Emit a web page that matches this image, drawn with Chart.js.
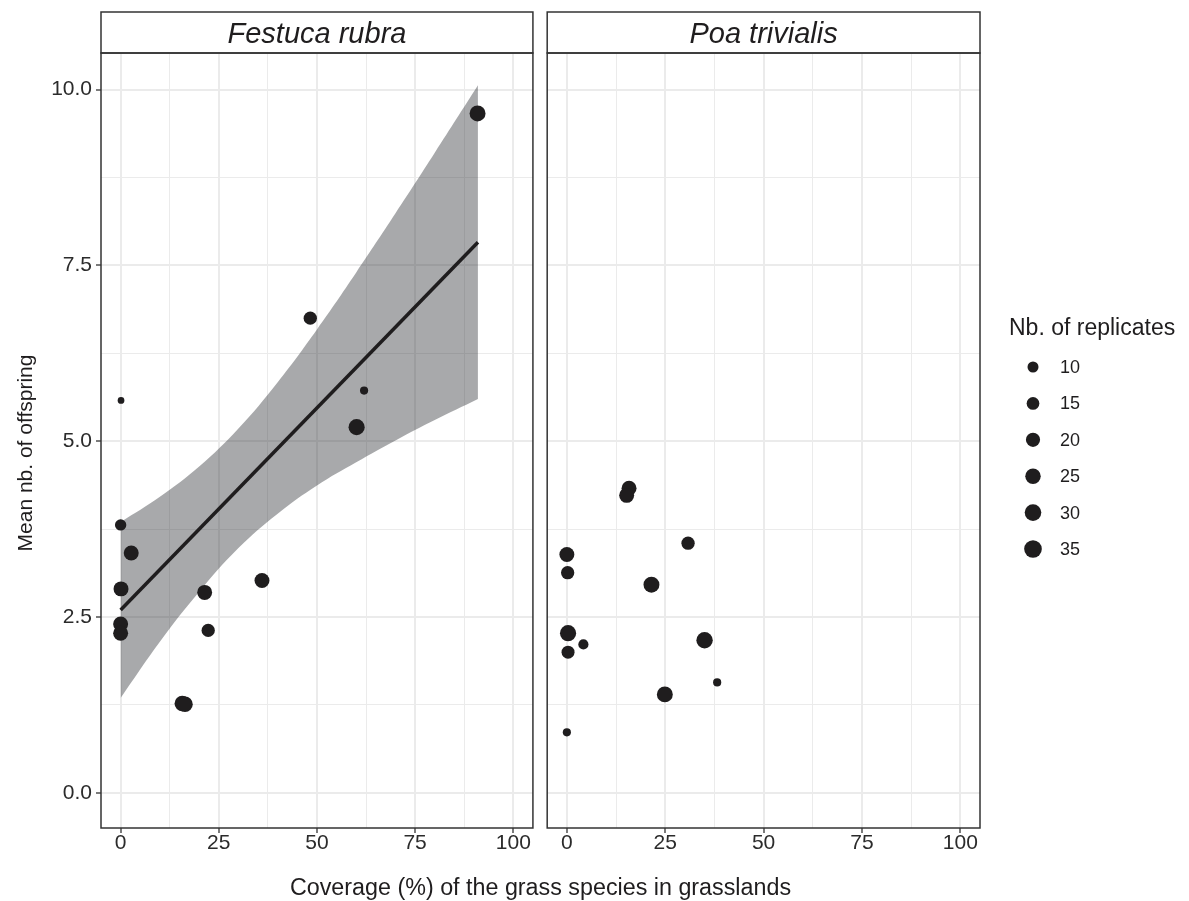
<!DOCTYPE html>
<html>
<head>
<meta charset="utf-8">
<script src="https://cdn.jsdelivr.net/npm/chart.js@4.4.1/dist/chart.umd.min.js"></script>
<style>
  body { margin: 0; background: #fff; width: 1189px; height: 901px; position: relative; overflow: hidden; font-family: "Liberation Sans", Arial, sans-serif; color: #1f1d1e; }
  canvas { position: absolute; top: 0; }
  #chartA { left: 0; }
  #chartB { left: 539px; }
  #xTitle { position: absolute; left: 101px; width: 879px; top: 873px; text-align: center; font-size: 23.3px; line-height: 28px; }
  #yTitle { position: absolute; left: -175px; width: 400px; top: 439px; height: 28px; line-height: 28px; text-align: center; font-size: 21px; transform: rotate(-90deg); }
</style>
</head>
<body>
<canvas id="chartA" width="541" height="901"></canvas>
<canvas id="chartB" width="650" height="901"></canvas>
<div id="xTitle">Coverage (%) of the grass species in grasslands</div>
<div id="yTitle">Mean nb. of offspring</div>
<script>
// Festuca rubra panel
const festucaCover = [90.9, 48.3, 0.1, 62.0, 60.1, 0.0, 2.7, 0.1, 21.4, 36.0, 0.0, 0.0, 22.3, 15.7, 16.4];
const festucaOffspring = [9.66, 6.75, 5.58, 5.72, 5.20, 3.81, 3.41, 2.90, 2.85, 3.02, 2.40, 2.27, 2.31, 1.27, 1.26];
const festucaReplicates = [27, 17, 2, 4, 28, 11, 23, 23, 23, 23, 23, 23, 17, 25, 25];

// Poa trivialis panel
const poaCover = [15.8, 15.2, 30.8, 0.0, 0.2, 21.5, 0.3, 4.2, 0.3, 35.0, 38.2, 24.9, 0.0];
const poaOffspring = [4.33, 4.23, 3.55, 3.39, 3.13, 2.96, 2.27, 2.11, 2.00, 2.17, 1.57, 1.40, 0.86];
const poaReplicates = [23, 23, 17, 23, 17, 27, 28, 8, 16, 29, 4, 27, 4];

// fitted line + confidence band (Festuca only)
const fitCover = [0, 91];
const fitOffspring = [2.60, 7.83];
const bandCover = [0, 10, 20, 30, 40, 50, 60, 70, 80, 91];
const bandUpper = [3.85, 4.21, 4.64, 5.18, 5.84, 6.59, 7.40, 8.24, 9.10, 10.06];
const bandLower = [1.35, 2.15, 2.86, 3.48, 3.97, 4.37, 4.70, 5.01, 5.30, 5.60];

// axes
const xTicks = [0, 12.5, 25, 37.5, 50, 62.5, 75, 87.5, 100];
const yTicks = [0, 1.25, 2.5, 3.75, 5, 6.25, 7.5, 8.75, 10];
const legendReplicates = [10, 15, 20, 25, 30, 35];

const font = '"Liberation Sans", Arial, sans-serif';
const ink = '#1f1d1e';

function dotRadius(n) {
    return (3.3 + 2.43 * Math.sqrt(n)) / 2;
}

function points(xs, ys, ns) {
    return xs.map((x, i) => ({ x: x, y: ys[i], n: ns[i] }));
}

function xy(xs, ys) {
    return xs.map((x, i) => ({ x: x, y: ys[i] }));
}

const panelFrame = {
    id: 'panelFrame',
    afterDraw(chart) {
        const ctx = chart.ctx;
        const a = chart.chartArea;
        ctx.save();
        ctx.strokeStyle = '#333';
        ctx.lineWidth = 1.5;
        ctx.strokeRect(a.left, a.top, a.right - a.left, a.bottom - a.top);
        ctx.strokeRect(a.left, 12, a.right - a.left, a.top - 12);
        ctx.restore();
    }
};

const replicateLegend = {
    id: 'replicateLegend',
    afterDraw(chart) {
        const ctx = chart.ctx;
        const left = chart.chartArea.right + 29;
        ctx.save();
        ctx.fillStyle = ink;
        ctx.textBaseline = 'middle';
        ctx.font = '23px ' + font;
        ctx.fillText('Nb. of replicates', left, 329);
        ctx.font = '18px ' + font;
        legendReplicates.forEach((n, i) => {
            const y = 367 + i * 36.4;
            ctx.beginPath();
            ctx.arc(left + 24, y, dotRadius(n), 0, 2 * Math.PI);
            ctx.fill();
            ctx.fillText(String(n), left + 51, y + 1);
        });
        ctx.restore();
    }
};

function xScale() {
    return {
        type: 'linear', min: -5, max: 105,
        afterBuildTicks: s => { s.ticks = xTicks.map(v => ({ value: v })); },
        afterFit: s => { s.height = 73; },
        border: { display: false },
        grid: {
            color: '#ebebeb',
            lineWidth: c => (c.tick && c.tick.value % 25 === 0) ? 2 : 1,
            tickColor: c => (c.tick && c.tick.value % 25 === 0) ? '#333' : 'rgba(0,0,0,0)',
            tickLength: 5, tickWidth: 1.3
        },
        ticks: {
            autoSkip: false, maxRotation: 0, padding: 0, color: '#2b2b2b',
            font: { family: font, size: 21, lineHeight: 1 },
            callback: v => v % 25 === 0 ? String(v) : ''
        }
    };
}

function yScale(showLabels) {
    return {
        type: 'linear', min: -0.5, max: 10.52,
        afterBuildTicks: s => { s.ticks = yTicks.map(v => ({ value: v })); },
        afterFit: s => { s.width = showLabels ? 101 : 6; },
        border: { display: false },
        grid: {
            color: '#ebebeb',
            lineWidth: c => (c.tick && c.tick.value % 2.5 === 0) ? 2 : 1,
            tickColor: c => (c.tick && c.tick.value % 2.5 === 0) ? '#333' : 'rgba(0,0,0,0)',
            drawTicks: showLabels, tickLength: 5, tickWidth: 1.3
        },
        ticks: {
            display: showLabels, autoSkip: false, padding: 4, color: '#2b2b2b',
            font: { family: font, size: 21 },
            callback: v => v % 2.5 === 0 ? v.toFixed(1) : ''
        }
    };
}

function stripTitle(text) {
    return {
        display: true, text: text, fullSize: false, color: ink,
        font: { family: font, size: 29, style: 'italic', weight: 'normal', lineHeight: 1 },
        padding: { top: 8, bottom: 4 }
    };
}

new Chart(document.getElementById('chartA'), {
    type: 'scatter',
    data: {
        datasets: [
            {
                data: points(festucaCover, festucaOffspring, festucaReplicates),
                backgroundColor: ink, borderWidth: 0, order: 0,
                pointRadius: c => dotRadius(c.raw.n)
            },
            {
                type: 'line', data: xy(fitCover, fitOffspring), order: 1,
                borderColor: ink, borderWidth: 3.5, pointRadius: 0, fill: false
            },
            {
                type: 'line', data: xy(bandCover, bandUpper), order: 2,
                borderWidth: 0, pointRadius: 0, tension: 0.4,
                fill: '+1', backgroundColor: 'rgba(38,39,44,0.4)'
            },
            {
                type: 'line', data: xy(bandCover, bandLower), order: 3,
                borderWidth: 0, pointRadius: 0, tension: 0.4, fill: false
            }
        ]
    },
    options: {
        responsive: false, animation: false,
        layout: { padding: { top: 12, right: 6, left: 0, bottom: 0 } },
        plugins: { legend: { display: false }, tooltip: { enabled: false }, title: stripTitle('Festuca rubra') },
        scales: { x: xScale(), y: yScale(true) }
    },
    plugins: [panelFrame]
});

new Chart(document.getElementById('chartB'), {
    type: 'scatter',
    data: {
        datasets: [{
            data: points(poaCover, poaOffspring, poaReplicates),
            backgroundColor: ink, borderWidth: 0,
            pointRadius: c => dotRadius(c.raw.n)
        }]
    },
    options: {
        responsive: false, animation: false,
        layout: { padding: { top: 12, right: 209, left: 0, bottom: 0 } },
        plugins: { legend: { display: false }, tooltip: { enabled: false }, title: stripTitle('Poa trivialis') },
        scales: { x: xScale(), y: yScale(false) }
    },
    plugins: [panelFrame, replicateLegend]
});
</script>
</body>
</html>
